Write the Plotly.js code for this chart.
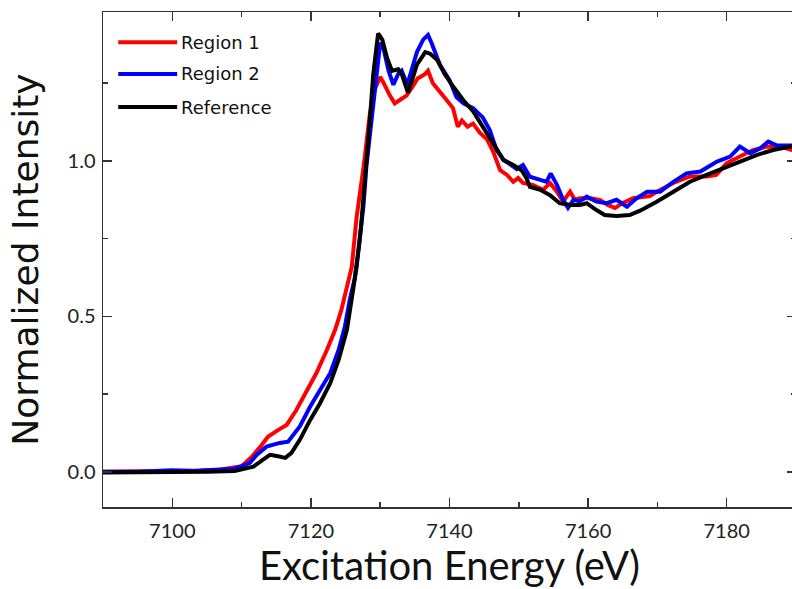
<!DOCTYPE html>
<html>
<head>
<meta charset="utf-8">
<script src="https://cdn.plot.ly/plotly-3.0.1.min.js"></script>
<style>
html, body { margin: 0; padding: 0; overflow: hidden; background: #fff; }
#chart { width: 800px; height: 589px; }
</style>
</head>
<body>
<div id="chart"></div>
<script>
// ---- data ----
var seriesNames = ["Region 1", "Region 2", "Reference"];
var seriesColors = ["#ff0000", "#0000ff", "#000000"];

var energyRegion1 = [7090, 7095, 7100, 7104, 7107, 7110, 7111.5, 7112.7, 7113.8, 7115.3, 7116.5, 7117.9, 7119.4, 7120.8, 7122.3, 7123.5, 7124.4, 7125.1, 7125.9, 7126.6, 7127.6, 7128.5, 7129.2, 7130.0, 7130.4, 7131.4, 7132.1, 7133.1, 7133.8, 7134.7, 7135.4, 7136.5, 7136.9, 7137.6, 7138.6, 7139.6, 7140.5, 7141.2, 7141.8, 7142.6, 7143.4, 7144.4, 7145.4, 7146.3, 7147.3, 7148.3, 7149.2, 7149.9, 7150.6, 7152.0, 7153.5, 7154.5, 7155.5, 7156.4, 7157.4, 7158.1, 7158.8, 7160.3, 7161.7, 7162.9, 7163.9, 7165.0, 7166.5, 7167.9, 7168.9, 7169.9, 7172.3, 7174.7, 7177.1, 7178.5, 7180.0, 7181.9, 7183.8, 7185.8, 7187.7, 7189.4, 7190];
var region1 = [0.0, 0.0, 0.003, 0.004, 0.008, 0.018, 0.049, 0.081, 0.113, 0.135, 0.151, 0.199, 0.264, 0.318, 0.392, 0.457, 0.521, 0.585, 0.66, 0.82, 0.98, 1.15, 1.23, 1.27, 1.255, 1.21, 1.185, 1.20, 1.21, 1.24, 1.265, 1.28, 1.29, 1.25, 1.22, 1.195, 1.17, 1.11, 1.13, 1.11, 1.12, 1.09, 1.07, 1.03, 0.97, 0.955, 0.933, 0.945, 0.929, 0.923, 0.907, 0.929, 0.901, 0.869, 0.901, 0.875, 0.88, 0.88, 0.875, 0.858, 0.849, 0.865, 0.88, 0.884, 0.887, 0.901, 0.929, 0.95, 0.95, 0.955, 0.993, 1.014, 1.035, 1.046, 1.046, 1.035, 1.035];

var energyRegion2 = [7090, 7095, 7100, 7103, 7106, 7109, 7111.2, 7112.2, 7113.6, 7115.5, 7116.7, 7118.4, 7119.9, 7121.3, 7122.8, 7124.0, 7124.9, 7125.6, 7126.3, 7126.9, 7127.6, 7128.0, 7128.8, 7129.5, 7130.0, 7130.5, 7131.2, 7131.9, 7132.6, 7133.1, 7133.9, 7134.5, 7135.3, 7136.2, 7136.9, 7137.4, 7138.6, 7140.0, 7141.0, 7142.0, 7143.4, 7144.8, 7145.8, 7146.8, 7147.8, 7148.7, 7149.7, 7150.6, 7151.6, 7153.1, 7154.0, 7154.6, 7155.5, 7156.4, 7157.1, 7157.9, 7158.8, 7159.8, 7161.2, 7162.7, 7164.1, 7165.6, 7167.0, 7168.5, 7170.4, 7172.3, 7174.2, 7176.2, 7178.6, 7180.5, 7181.9, 7183.4, 7184.8, 7186.0, 7187.2, 7189.4, 7190];
var region2 = [0.0, 0.0, 0.005, 0.003, 0.006, 0.01, 0.029, 0.055, 0.081, 0.093, 0.097, 0.146, 0.21, 0.264, 0.318, 0.392, 0.467, 0.553, 0.62, 0.72, 0.86, 0.98, 1.15, 1.30, 1.38, 1.36, 1.29, 1.245, 1.28, 1.29, 1.245, 1.29, 1.35, 1.39, 1.405, 1.38, 1.31, 1.26, 1.205, 1.185, 1.17, 1.14, 1.10, 1.035, 1.003, 0.99, 0.974, 0.987, 0.949, 0.939, 0.933, 0.96, 0.923, 0.875, 0.849, 0.875, 0.87, 0.885, 0.869, 0.864, 0.875, 0.853, 0.88, 0.901, 0.901, 0.933, 0.96, 0.966, 0.998, 1.014, 1.046, 1.025, 1.04, 1.062, 1.05, 1.05, 1.05];

var energyReference = [7090, 7095, 7100, 7105, 7109, 7111.7, 7113.1, 7114.1, 7115.1, 7116.3, 7117.2, 7118.4, 7119.9, 7121.3, 7122.8, 7124.0, 7125.2, 7125.9, 7126.6, 7127.2, 7127.8, 7128.2, 7128.5, 7129.0, 7129.7, 7130.3, 7131.0, 7131.7, 7132.6, 7133.1, 7134.0, 7134.6, 7135.3, 7136.5, 7137.2, 7138.2, 7139.3, 7140.5, 7142.0, 7143.4, 7144.8, 7146.3, 7147.8, 7149.2, 7150.4, 7151.1, 7151.6, 7153.1, 7154.5, 7155.9, 7157.4, 7158.8, 7159.8, 7161.2, 7162.4, 7164.1, 7166.0, 7167.5, 7168.6, 7169.9, 7172.3, 7174.7, 7177.1, 7179.5, 7181.9, 7184.3, 7186.7, 7189.1, 7190];
var reference = [-0.002, -0.002, -0.001, 0.0, 0.003, 0.017, 0.039, 0.055, 0.051, 0.045, 0.061, 0.103, 0.167, 0.22, 0.286, 0.36, 0.457, 0.553, 0.66, 0.78, 0.93, 1.03, 1.13, 1.28, 1.41, 1.39, 1.33, 1.29, 1.295, 1.28, 1.22, 1.26, 1.31, 1.35, 1.345, 1.325, 1.28, 1.24, 1.195, 1.16, 1.11, 1.06, 1.003, 0.987, 0.97, 0.945, 0.917, 0.907, 0.89, 0.864, 0.858, 0.858, 0.864, 0.842, 0.826, 0.823, 0.826, 0.84, 0.852, 0.869, 0.901, 0.933, 0.955, 0.977, 0.998, 1.019, 1.035, 1.046, 1.05];

var xTickValues = [7100, 7120, 7140, 7160, 7180];
var yTickValues = [0.0, 0.5, 1.0];
var xTitle = "Excitation Energy (eV)";
var yTitle = "Normalized Intensity";

// ---- traces ----
var xs = [energyRegion1, energyRegion2, energyReference];
var ys = [region1, region2, reference];
var traces = [];
for (var i = 0; i < 3; i++) {
  traces.push({
    type: "scatter", mode: "lines",
    x: xs[i], y: ys[i], name: seriesNames[i],
    line: { color: seriesColors[i], width: 4 },
    showlegend: false, hoverinfo: "skip"
  });
}

// ---- custom legend (long line samples like the reference) ----
var legendY = [0.939, 0.875, 0.808];
var shapes = [], annotations = [];
for (var j = 0; j < 3; j++) {
  shapes.push({ type: "line", xref: "paper", yref: "paper",
    x0: 0.022, x1: 0.107, y0: legendY[j], y1: legendY[j],
    line: { color: seriesColors[j], width: 4 } });
  annotations.push({ xref: "paper", yref: "paper", x: 0.110, y: legendY[j],
    xanchor: "left", yanchor: "middle", showarrow: false, text: seriesNames[j],
    font: { family: "DejaVu Sans", size: 18, color: "#111" } });
}

var axisCommon = {
  showgrid: false, zeroline: false, showline: true,
  linecolor: "#333", linewidth: 1.5, mirror: "ticks",
  ticks: "inside", ticklen: 9, tickwidth: 1.5, tickcolor: "#333",
  tickfont: { family: "Lato", size: 20, color: "#222" },
  automargin: false
};

var layout = {
  width: 800, height: 589,
  margin: { l: 103, r: 4, t: 12, b: 82 },
  paper_bgcolor: "#fff", plot_bgcolor: "#fff",
  showlegend: false,
  xaxis: Object.assign({}, axisCommon, {
    range: [7090, 7190], tickmode: "array", tickvals: xTickValues,
    ticktext: xTickValues.map(String), ticklabelstandoff: 5,
    minor: { dtick: 10, tick0: 7090, ticks: "inside", ticklen: 5, tickwidth: 1.5, tickcolor: "#333" },
    title: { text: xTitle, font: { family: "Lato", size: 40, color: "#111" }, standoff: 24 }
  }),
  yaxis: Object.assign({}, axisCommon, {
    range: [-0.113, 1.479], tickmode: "array", tickvals: yTickValues,
    ticktext: yTickValues.map(function (v) { return v.toFixed(1); }), ticklabelstandoff: 2,
    minor: { dtick: 0.25, tick0: 0, ticks: "inside", ticklen: 5, tickwidth: 1.5, tickcolor: "#333" },
    title: { text: yTitle, font: { family: "DejaVu Sans", size: 36, color: "#111" }, standoff: 18 }
  }),
  shapes: shapes,
  annotations: annotations
};

Plotly.newPlot("chart", traces, layout, { displayModeBar: false, staticPlot: true });
</script>
</body>
</html>
